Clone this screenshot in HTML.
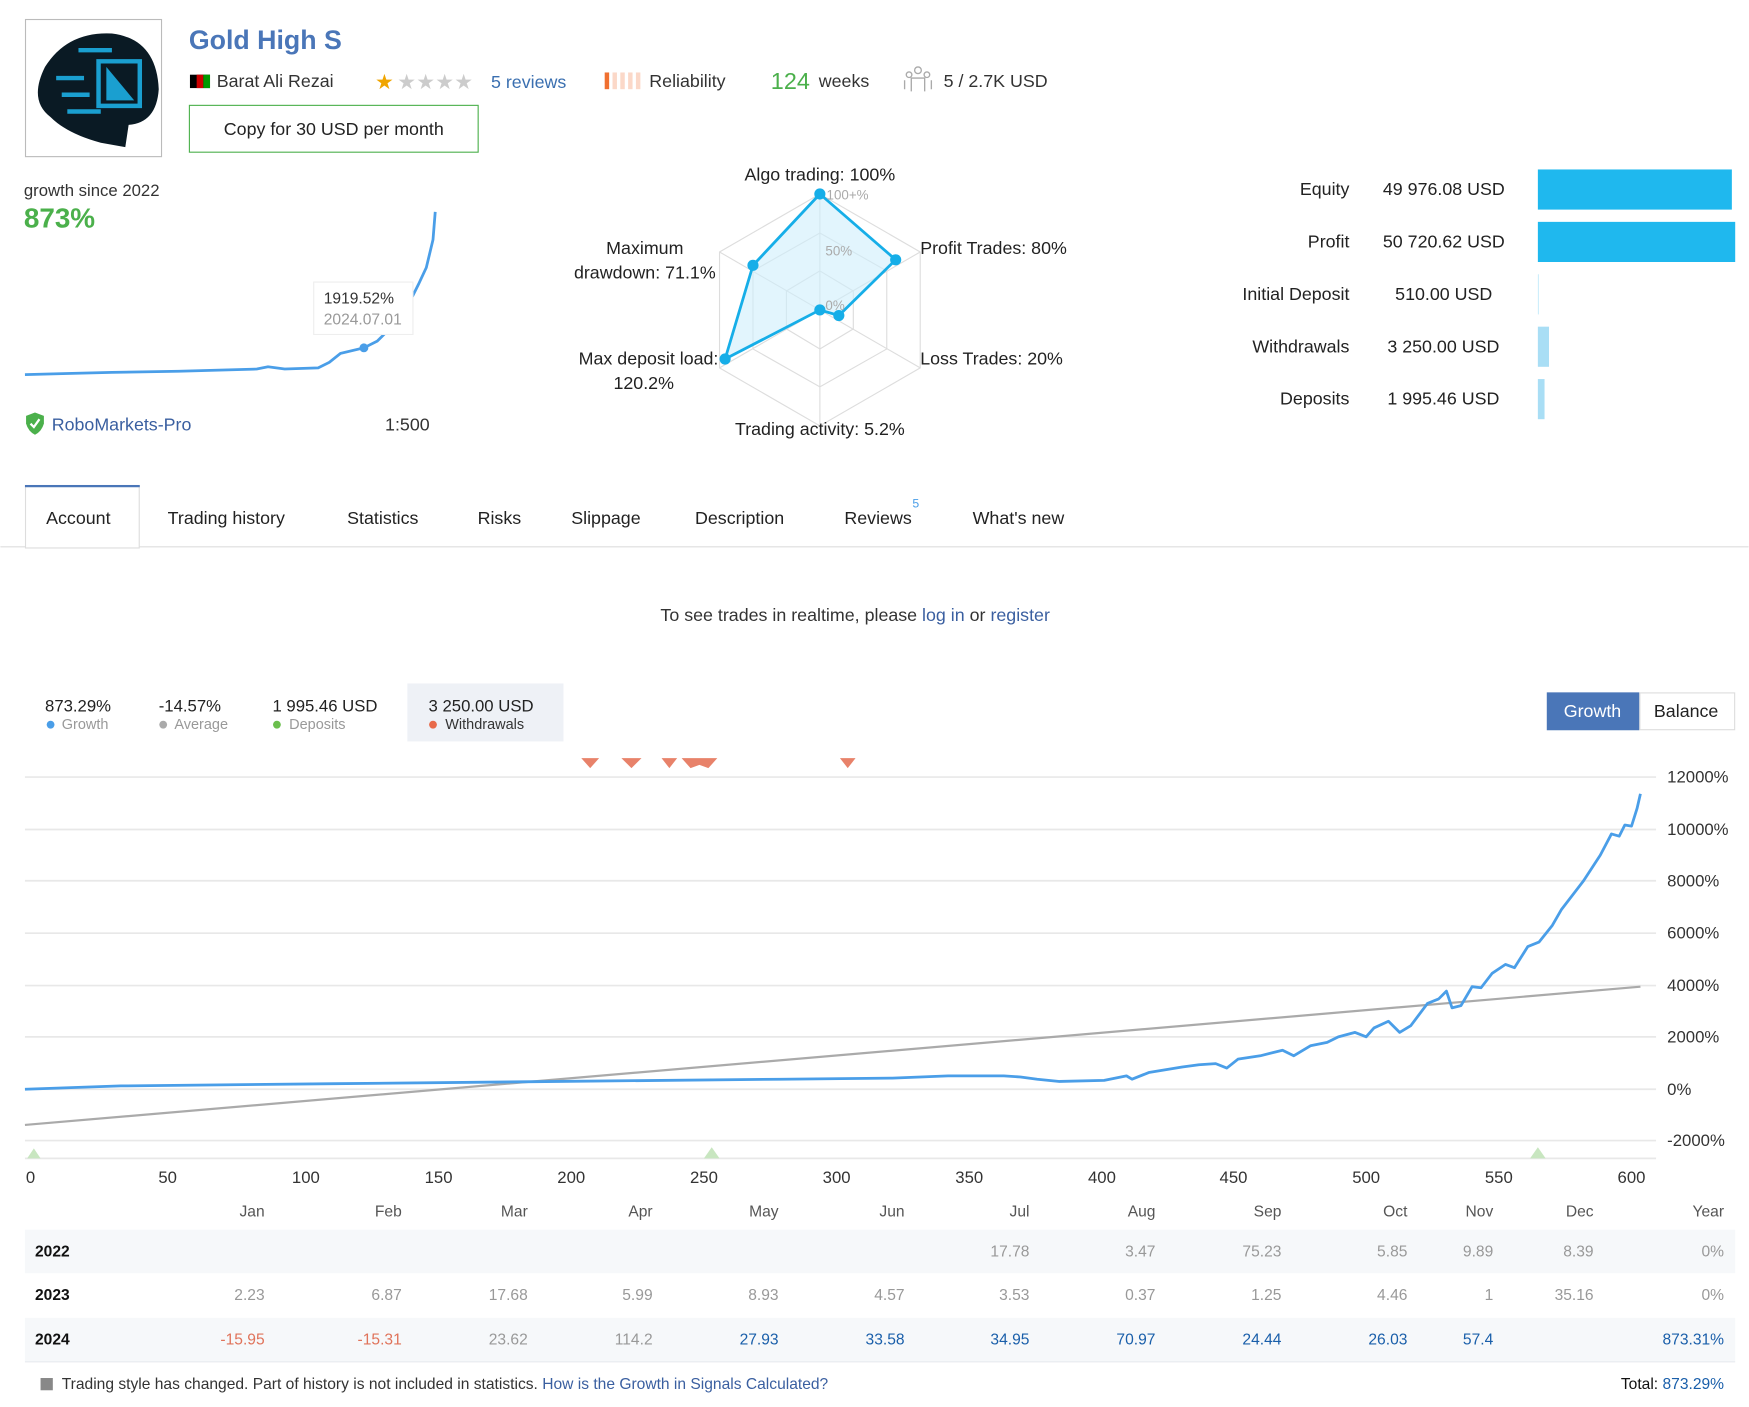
<!DOCTYPE html>
<html><head><meta charset="utf-8"><style>
html,body{margin:0;padding:0;background:#fff;}
svg{display:block;font-family:"Liberation Sans",sans-serif;}
</style></head><body>
<svg width="1749" height="1407" viewBox="0 0 1568 1262" xmlns="http://www.w3.org/2000/svg">
<rect width="1568" height="1262" fill="#fff"/>
<!-- avatar -->
<rect x="22.5" y="17.5" width="122" height="123" fill="#fff" stroke="#bbb"/>
<path d="M40 60 Q60 28 100 30 Q140 35 142 80 Q140 110 115 112 L112 132 L90 128 Q60 120 45 105 Q25 90 40 60Z" fill="#0a1a24"/>
<path d="M88 55 L125 55 L125 95 L88 95Z M50 70 L75 70 M55 85 L80 85 M60 100 L90 100 M70 45 L100 45" stroke="#1a9fd0" stroke-width="4" fill="none"/>
<path d="M95 60 L120 90 L95 90Z" fill="#1a9fd0"/>
<!-- header -->
<text x="169" y="44" font-size="24" font-weight="bold" fill="#4a76b8">Gold High S</text>
<rect x="170" y="67" width="18" height="12" fill="#000"/><rect x="176" y="67" width="6" height="12" fill="#c00"/><rect x="182" y="67" width="6" height="12" fill="#090"/>
<text x="194" y="78" font-size="16" fill="#333">Barat Ali Rezai</text>
<text x="336" y="80" font-size="19" fill="#f0a500">★</text>
<text x="356" y="80" font-size="19" fill="#ccc">★★★★</text>
<text x="440" y="79" font-size="16" fill="#3a6fb0">5 reviews</text>
<g fill="#fbd8c8"><rect x="542" y="65" width="4" height="15" fill="#f07030"/><rect x="549" y="65" width="4" height="15"/><rect x="556" y="65" width="4" height="15"/><rect x="563" y="65" width="4" height="15"/><rect x="570" y="65" width="4" height="15"/></g>
<text x="582" y="78" font-size="16" fill="#333">Reliability</text>
<text x="691" y="80" font-size="21" fill="#4bb04b">124</text>
<text x="734" y="78" font-size="16" fill="#333">weeks</text>
<g stroke="#aaa" fill="none" stroke-width="1.2"><circle cx="823" cy="63" r="3"/><circle cx="815" cy="67" r="2.5"/><circle cx="831" cy="67" r="2.5"/><path d="M817 82 L817 70 L829 70 L829 82 M811 80 L811 72 M835 80 L835 72"/></g>
<text x="846" y="78" font-size="16" fill="#333">5 / 2.7K USD</text>
<rect x="169.5" y="94.5" width="259" height="42" fill="#fff" stroke="#4bb04b"/>
<text x="299" y="121" font-size="16" fill="#222" text-anchor="middle">Copy for 30 USD per month</text>
<!-- growth mini -->
<text x="21" y="176" font-size="15" fill="#333">growth since 2022</text>
<text x="21" y="204" font-size="25" font-weight="bold" fill="#4bb04b">873%</text>
<path d="M22 336 L60 335 L100 334 L160 333 L230 331 L240 329 L255 331 L285 330 L295 325 L305 317 L326 312 L338 306 L350 294 L365 275 L375 255 L382 240 L388 215 L390 190" stroke="#4a9ee8" stroke-width="2.5" fill="none"/>
<circle cx="326" cy="312" r="4" fill="#4a9ee8"/>
<rect x="281" y="253" width="89" height="47" fill="#fff" stroke="#eee"/>
<text x="290" y="272" font-size="14" fill="#333">1919.52%</text>
<text x="290" y="291" font-size="14" fill="#999">2024.07.01</text>
<path d="M23 373 L31 370 L39 373 L39 380 Q37 387 31 390 Q25 387 23 380Z" fill="#4bb04b"/>
<path d="M27 380 L30 383 L35 376" stroke="#fff" stroke-width="2" fill="none"/>
<text x="46" y="386" font-size="16" fill="#3a5fa0">RoboMarkets-Pro</text>
<text x="345" y="386" font-size="16" fill="#333">1:500</text>
<!-- radar -->
<g stroke="#ddd" fill="none">
<path d="M735 174 L825 226 L825 330 L735 382 L645 330 L645 226Z"/>
<path d="M735 209 L795 243 L795 313 L735 347 L675 313 L675 243Z"/>
<path d="M735 243 L765 261 L765 295 L735 313 L705 295 L705 261Z"/>
<path d="M735 174 L735 382 M645 226 L825 330 M825 226 L645 330"/>
</g>
<path d="M735 174 L803 233 L752 283 L735 278 L650 322 L675 238Z" fill="#cfeefb" fill-opacity="0.6" stroke="#16aee8" stroke-width="2.5"/>
<g fill="#16aee8"><circle cx="735" cy="174" r="5"/><circle cx="803" cy="233" r="5"/><circle cx="752" cy="283" r="5"/><circle cx="735" cy="278" r="5"/><circle cx="650" cy="322" r="5"/><circle cx="675" cy="238" r="5"/></g>
<g font-size="12" fill="#aaa"><text x="741" y="179">100+%</text><text x="740" y="229">50%</text><text x="740" y="278">0%</text></g>
<g font-size="16" fill="#222">
<text x="735" y="162" text-anchor="middle">Algo trading: 100%</text>
<text x="825" y="228">Profit Trades: 80%</text>
<text x="825" y="327">Loss Trades: 20%</text>
<text x="735" y="390" text-anchor="middle">Trading activity: 5.2%</text>
<text x="578" y="228" text-anchor="middle">Maximum</text>
<text x="578" y="250" text-anchor="middle">drawdown: 71.1%</text>
<text x="644" y="327" text-anchor="end">Max deposit load:</text>
<text x="577" y="349" text-anchor="middle">120.2%</text>
</g>
<!-- right bars -->
<g font-size="16" fill="#222" text-anchor="end">
<text x="1210" y="175">Equity</text><text x="1210" y="222">Profit</text><text x="1210" y="269">Initial Deposit</text><text x="1210" y="316">Withdrawals</text><text x="1210" y="363">Deposits</text>
</g>
<g font-size="16" fill="#222">
<text x="1240" y="175">49 976.08 USD</text><text x="1240" y="222">50 720.62 USD</text><text x="1251" y="269">510.00 USD</text><text x="1244" y="316">3 250.00 USD</text><text x="1244" y="363">1 995.46 USD</text>
</g>
<rect x="1379" y="152" width="174" height="36" fill="#1fb8ee"/>
<rect x="1379" y="199" width="177" height="36" fill="#1fb8ee"/>
<rect x="1379" y="246" width="1" height="36" fill="#cdeefb"/>
<rect x="1379" y="293" width="10" height="36" fill="#a9def5"/>
<rect x="1379" y="340" width="6" height="36" fill="#a9def5"/>
<!-- tabs -->
<line x1="0" y1="490.5" x2="1568" y2="490.5" stroke="#ddd"/>
<rect x="22.5" y="436.5" width="102" height="55" fill="#fff" stroke="#ddd"/>
<rect x="22" y="435" width="103" height="2" fill="#4a76b8"/>
<g font-size="16" fill="#222">
<text x="41" y="470">Account</text><text x="150" y="470">Trading history</text><text x="311" y="470">Statistics</text><text x="428" y="470">Risks</text><text x="512" y="470">Slippage</text><text x="623" y="470">Description</text><text x="757" y="470">Reviews</text><text x="872" y="470">What's new</text>
</g>
<text x="818" y="455" font-size="11" fill="#4a9ee8">5</text>
<text x="592" y="557" font-size="16" fill="#333">To see trades in realtime, please <tspan fill="#3a5fa0">log in</tspan> or <tspan fill="#3a5fa0">register</tspan></text>
<!-- stats -->
<rect x="365" y="613" width="140" height="52" fill="#eef1f6"/>
<g font-size="15" fill="#222"><text x="40" y="638">873.29%</text><text x="142" y="638">-14.57%</text><text x="244" y="638">1 995.46 USD</text><text x="384" y="638">3 250.00 USD</text></g>
<g font-size="13" fill="#999"><text x="55" y="654">Growth</text><text x="156" y="654">Average</text><text x="259" y="654">Deposits</text><text x="399" y="654" fill="#333">Withdrawals</text></g>
<circle cx="45" cy="650" r="3.5" fill="#4a9ee8"/><circle cx="146" cy="650" r="3.5" fill="#aaa"/><circle cx="248" cy="650" r="3.5" fill="#6bbf4e"/><circle cx="388" cy="650" r="3.5" fill="#e86a4a"/>
<rect x="1387" y="621" width="83" height="34" fill="#4a76b8"/>
<rect x="1470.5" y="621.5" width="85" height="33" fill="#fff" stroke="#ddd"/>
<text x="1428" y="643" font-size="16" fill="#fff" text-anchor="middle">Growth</text>
<text x="1512" y="643" font-size="16" fill="#222" text-anchor="middle">Balance</text>
<!-- chart -->
<g stroke="#e8e8e8" stroke-width="1.5">
<line x1="22" y1="697" x2="1485" y2="697"/><line x1="22" y1="744" x2="1485" y2="744"/><line x1="22" y1="790" x2="1485" y2="790"/><line x1="22" y1="837" x2="1485" y2="837"/><line x1="22" y1="884" x2="1485" y2="884"/><line x1="22" y1="930" x2="1485" y2="930"/><line x1="22" y1="977" x2="1485" y2="977"/><line x1="22" y1="1023" x2="1485" y2="1023"/><line x1="22" y1="1039" x2="1485" y2="1039"/>
</g>
<g font-size="15" fill="#333">
<text x="1495" y="702">12000%</text><text x="1495" y="749">10000%</text><text x="1495" y="795">8000%</text><text x="1495" y="842">6000%</text><text x="1495" y="889">4000%</text><text x="1495" y="935">2000%</text><text x="1495" y="982">0%</text><text x="1495" y="1028">-2000%</text>
</g>
<g font-size="15" fill="#333" text-anchor="middle">
<text x="27" y="1061">0</text><text x="150" y="1061">50</text><text x="274" y="1061">100</text><text x="393" y="1061">150</text><text x="512" y="1061">200</text><text x="631" y="1061">250</text><text x="750" y="1061">300</text><text x="869" y="1061">350</text><text x="988" y="1061">400</text><text x="1106" y="1061">450</text><text x="1225" y="1061">500</text><text x="1344" y="1061">550</text><text x="1463" y="1061">600</text>
</g>
<g fill="#e8826a">
<path d="M521 680 L537 680 L529 689Z"/><path d="M557 680 L575 680 L566 689Z"/><path d="M593 680 L607 680 L600 689Z"/><path d="M611 680 L643 680 L635 689 L627 686 L619 689Z"/><path d="M753 680 L767 680 L760 689Z"/>
</g>
<g fill="#c8e6c0"><path d="M24 1039 L36 1039 L30 1030Z"/><path d="M631 1039 L645 1039 L638 1029Z"/><path d="M1372 1039 L1386 1039 L1379 1029Z"/></g>
<line x1="22" y1="1009" x2="1471" y2="885" stroke="#aaa" stroke-width="2"/>
<path d="M22 977 L108 974 L300 972 L500 970 L700 968 L800 967 L850 965 L900 965 L915 966 L930 968 L950 970 L990 969 L1010 965 L1015 968 L1030 962 L1060 957 L1075 955 L1090 954 L1100 958 L1110 950 L1130 947 L1150 942 L1160 947 L1175 938 L1190 935 L1200 930 L1215 926 L1225 930 L1232 922 L1245 916 L1255 926 L1265 920 L1280 900 L1290 896 L1297 889 L1302 904 L1310 902 L1320 885 L1328 886 L1338 873 L1350 865 L1358 868 L1370 849 L1380 845 L1392 830 L1400 816 L1420 790 L1435 767 L1445 748 L1452 750 L1457 740 L1463 741 L1468 725 L1471 712" stroke="#4a9ee8" stroke-width="2.5" fill="none" stroke-linejoin="round"/>
<!-- table -->
<g font-size="14" fill="#555" text-anchor="end">
<text x="237" y="1091">Jan</text><text x="360" y="1091">Feb</text><text x="473" y="1091">Mar</text><text x="585" y="1091">Apr</text><text x="698" y="1091">May</text><text x="811" y="1091">Jun</text><text x="923" y="1091">Jul</text><text x="1036" y="1091">Aug</text><text x="1149" y="1091">Sep</text><text x="1262" y="1091">Oct</text><text x="1339" y="1091">Nov</text><text x="1429" y="1091">Dec</text><text x="1546" y="1091">Year</text>
</g>
<rect x="22" y="1103" width="1534" height="39" fill="#f6f8fa"/>
<rect x="22" y="1182" width="1534" height="39" fill="#f6f8fa"/>
<line x1="22" y1="1221.5" x2="1556" y2="1221.5" stroke="#e6e9ee"/>
<g font-size="14" font-weight="bold" fill="#111"><text x="31" y="1127">2022</text><text x="31" y="1166">2023</text><text x="31" y="1206">2024</text></g>
<g font-size="14" fill="#999" text-anchor="end">
<text x="923" y="1127">17.78</text><text x="1036" y="1127">3.47</text><text x="1149" y="1127">75.23</text><text x="1262" y="1127">5.85</text><text x="1339" y="1127">9.89</text><text x="1429" y="1127">8.39</text><text x="1546" y="1127">0%</text>
<text x="237" y="1166">2.23</text><text x="360" y="1166">6.87</text><text x="473" y="1166">17.68</text><text x="585" y="1166">5.99</text><text x="698" y="1166">8.93</text><text x="811" y="1166">4.57</text><text x="923" y="1166">3.53</text><text x="1036" y="1166">0.37</text><text x="1149" y="1166">1.25</text><text x="1262" y="1166">4.46</text><text x="1339" y="1166">1</text><text x="1429" y="1166">35.16</text><text x="1546" y="1166">0%</text>
<text x="237" y="1206" fill="#e0735a">-15.95</text><text x="360" y="1206" fill="#e0735a">-15.31</text><text x="473" y="1206">23.62</text><text x="585" y="1206">114.2</text>
<g fill="#1a5faa"><text x="698" y="1206">27.93</text><text x="811" y="1206">33.58</text><text x="923" y="1206">34.95</text><text x="1036" y="1206">70.97</text><text x="1149" y="1206">24.44</text><text x="1262" y="1206">26.03</text><text x="1339" y="1206">57.4</text><text x="1546" y="1206">873.31%</text></g>
</g>
<rect x="36" y="1236" width="11" height="11" fill="#888"/>
<text x="55" y="1246" font-size="14" fill="#333">Trading style has changed. Part of history is not included in statistics. <tspan fill="#3a5fa0">How is the Growth in Signals Calculated?</tspan></text>
<text x="1546" y="1246" font-size="14" fill="#111" text-anchor="end">Total: <tspan fill="#1a5faa">873.29%</tspan></text>
</svg>
</body></html>
